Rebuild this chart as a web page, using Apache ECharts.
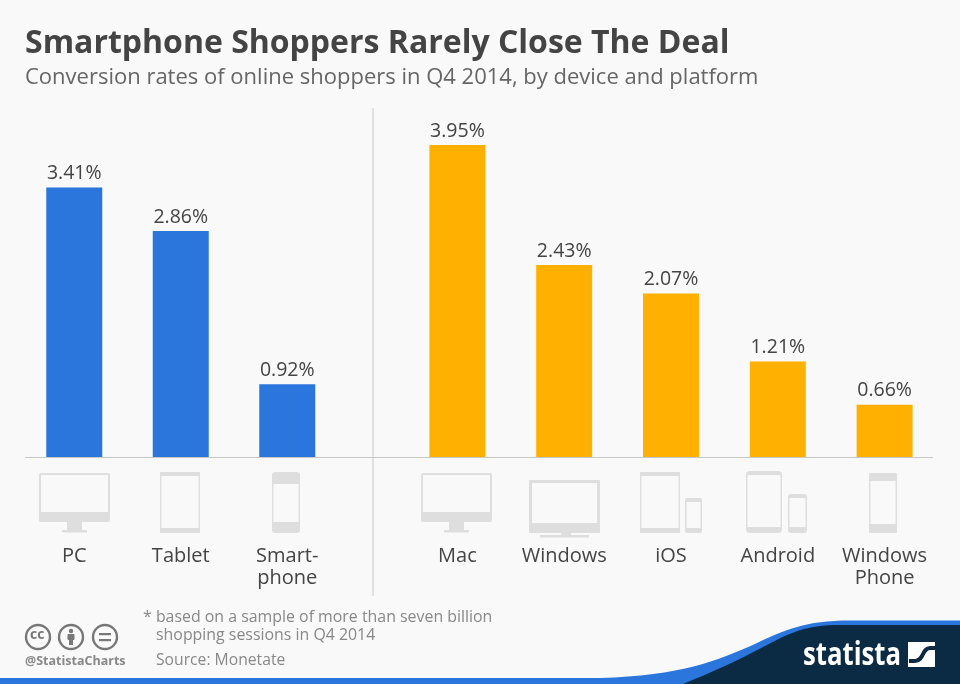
<!DOCTYPE html>
<html lang="en">

<head>
    <meta charset="UTF-8">
    <title>Smartphone Shoppers Rarely Close The Deal</title>
    <style>
        html, body { margin: 0; padding: 0; background: #f9f9f9; }
        #main { width: 960px; height: 684px; }
    </style>
</head>

<body>
    <div id="main"></div>
    <script src="https://cdn.jsdelivr.net/npm/echarts@6/dist/echarts.min.js"></script>
    <script>
        var deviceNames = ['PC', 'Tablet', 'Smart-\nphone'];
        var deviceValues = [3.41, 2.86, 0.92];
        var platformNames = ['Mac', 'Windows', 'iOS', 'Android', 'Windows\nPhone'];
        var platformValues = [3.95, 2.43, 2.07, 1.21, 0.66];

        var titleText = 'Smartphone Shoppers Rarely Close The Deal';
        var subtitleText = 'Conversion rates of online shoppers in Q4 2014, by device and platform';

        var FONT = '"Open Sans", sans-serif';
        var ICON = '#dedede';
        var BG = '#f9f9f9';
        var NAVY = '#0b2a43';

        // graphic has no plain path type, so the footer curves are registered as shapes
        function addShape(name, pathData) {
            echarts.graphic.registerShape(name, echarts.graphic.extendPath(pathData, {}));
        }
        addShape('waveEdge', 'M0 678 L600 678 C680 676 720 660 757 643 C785 630 805 620.5 850 620.5 L960 620.5 L960 684 L0 684 Z');
        addShape('waveBody', 'M683 684 C710 673 735 662 767 645 C790 633 805 625 840 625 L960 625 L960 684 Z');
        addShape('logoSwoosh', 'M909 661 L915 661 C924 661 922 648 930 648 L935 648');

        function box(x, y, w, h, fill, r) {
            return { type: 'rect', shape: { x: x, y: y, width: w, height: h, r: r || 0 }, style: { fill: fill } };
        }
        function label(x, y, text, size, color, weight) {
            return { type: 'text', x: x, y: y, style: { text: text, font: (weight || 'normal') + ' ' + size + 'px ' + FONT, fill: color } };
        }
        function ring(cx) {
            return { type: 'circle', shape: { cx: cx, cy: 637, r: 12 }, style: { fill: 'none', stroke: '#777', lineWidth: 2.4 } };
        }
        // screen with a thick chin and a stand
        function monitor(x) {
            return [
                box(x, 473, 71, 49, ICON, 2),
                box(x + 2, 475, 67, 37, BG),
                box(x + 28, 522, 15, 8, ICON),
                box(x + 23, 530, 25, 2.5, ICON)
            ];
        }
        function slate(x, y, w, h, top, bottom, r) {
            return [
                box(x, y, w, h, ICON, r || 2),
                box(x + 1.5, y + top, w - 3, h - top - bottom, BG)
            ];
        }

        var icons = [].concat(
            monitor(39),
            slate(160, 472, 40, 61, 4, 5, 1),
            slate(272, 472, 28, 61, 12, 11, 3),
            monitor(421),
            [
                box(529, 480, 71, 53, ICON, 1),
                box(532, 483, 65, 40, BG),
                box(561, 533, 10, 3, ICON),
                box(540, 535, 49, 2.5, ICON)
            ],
            slate(640, 472, 40, 61, 4, 5, 1),
            slate(685, 498, 17, 35, 4, 5, 2),
            slate(746, 471, 36, 62, 4, 6, 4),
            slate(788, 494, 19, 39, 4, 6, 3),
            slate(869, 473, 28, 60, 8, 9, 1)
        );

        var logoText = label(803, 639, 'statista', 33, '#ffffff', 'bold');
        logoText.scaleX = 0.78;

        var footer = [
            { type: 'waveEdge', style: { fill: '#2a76dc' } },
            { type: 'waveBody', style: { fill: NAVY } },
            logoText,
            box(908, 642, 27, 25, '#ffffff'),
            { type: 'logoSwoosh', style: { fill: 'none', stroke: NAVY, lineWidth: 4 } },

            ring(38),
            ring(71),
            ring(105),
            label(30, 628, 'cc', 14, '#777', 'bold'),
            { type: 'circle', shape: { cx: 71, cy: 631, r: 2.2 }, style: { fill: '#777' } },
            box(67.5, 634, 7, 6, '#777', 1),
            box(69, 639, 4, 6, '#777'),
            box(99, 633, 12, 2.2, '#777'),
            box(99, 639, 12, 2.2, '#777'),
            label(25, 655, '@StatistaCharts', 12.5, '#888', 'bold'),

            label(143, 609, '* based on a sample of more than seven billion', 15.9, '#888'),
            label(156, 627, 'shopping sessions in Q4 2014', 15.9, '#888'),
            label(156, 653, 'Source: Monetate', 15.7, '#888')
        ];

        var rules = [
            { type: 'line', shape: { x1: 25, y1: 457.5, x2: 933, y2: 457.5 }, style: { stroke: '#c8c8c8', lineWidth: 1 } },
            { type: 'line', shape: { x1: 373, y1: 108, x2: 373, y2: 596 }, style: { stroke: '#c8c8c8', lineWidth: 1 } }
        ];

        function barSeries(values, color, index) {
            return {
                type: 'bar',
                xAxisIndex: index,
                yAxisIndex: index,
                data: values,
                barWidth: 56,
                silent: true,
                itemStyle: { color: color },
                label: {
                    show: true,
                    position: 'top',
                    distance: 4,
                    formatter: '{c}%',
                    fontFamily: FONT,
                    fontSize: 19.5,
                    color: '#444'
                }
            };
        }
        function catAxis(names, index) {
            return {
                type: 'category',
                gridIndex: index,
                data: names,
                axisLine: { show: false },
                axisTick: { show: false },
                axisLabel: {
                    interval: 0,
                    margin: 88,
                    fontFamily: FONT,
                    fontSize: 20,
                    lineHeight: 22,
                    color: '#444'
                }
            };
        }
        function valAxis(index) {
            return { type: 'value', gridIndex: index, min: 0, max: 4, show: false };
        }

        var mainMap = echarts.init(document.getElementById('main'));
        mainMap.setOption({
            animation: false,
            backgroundColor: BG,
            title: [
                { text: titleText, left: 20, top: 23, textStyle: { fontFamily: FONT, fontSize: 32, fontWeight: 'bold', color: '#444' } },
                { text: subtitleText, left: 20, top: 62, textStyle: { fontFamily: FONT, fontSize: 22, fontWeight: 'normal', color: '#666' } }
            ],
            grid: [
                { left: 21, top: 141, width: 319.5, height: 316 },
                { left: 404, top: 141, width: 534, height: 316 }
            ],
            xAxis: [catAxis(deviceNames, 0), catAxis(platformNames, 1)],
            yAxis: [valAxis(0), valAxis(1)],
            series: [barSeries(deviceValues, '#2a76dc', 0), barSeries(platformValues, '#ffb000', 1)],
            graphic: { elements: rules.concat(icons, footer) }
        });
    </script>
</body>

</html>
